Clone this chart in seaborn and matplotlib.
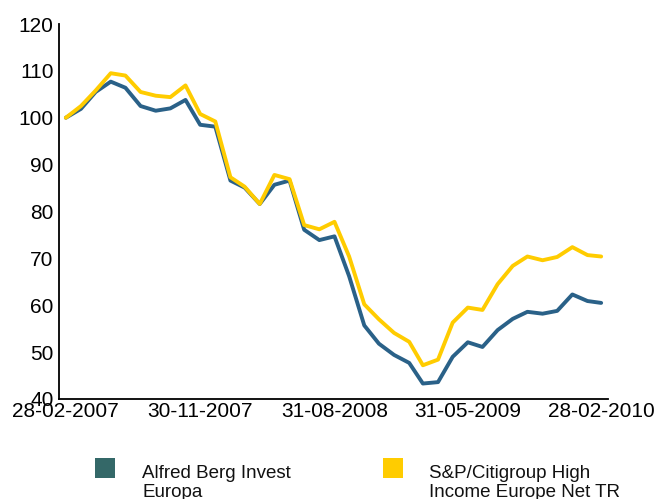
import pandas as pd
import numpy as np
import matplotlib
matplotlib.use('Agg')
import matplotlib.pyplot as plt
import matplotlib.patches as mpatches
import seaborn as sns

sns.set_style("white")
plt.rcParams['font.family'] = ['Liberation Sans', 'DejaVu Sans']

# monthly index values, 28-02-2007 .. 28-02-2010
dates = pd.date_range("2007-02-28", periods=37, freq="ME")
fund = [100.0, 101.9, 105.5, 107.7, 106.4, 102.5, 101.5, 102.0, 103.8, 98.5,
        98.1, 86.6, 85.1, 81.6, 85.7, 86.6, 76.1, 73.9, 74.7, 66.2,
        55.7, 51.8, 49.4, 47.7, 43.3, 43.6, 49.0, 52.1, 51.1, 54.7,
        57.1, 58.6, 58.2, 58.8, 62.3, 60.9, 60.5]
index_tr = [100.0, 102.5, 105.8, 109.5, 109.0, 105.5, 104.7, 104.4, 106.9, 100.8,
            99.2, 87.3, 85.3, 81.6, 87.8, 86.9, 77.1, 76.2, 77.8, 70.4,
            60.2, 57.0, 54.1, 52.2, 47.2, 48.4, 56.3, 59.5, 59.0, 64.5,
            68.4, 70.4, 69.6, 70.3, 72.4, 70.7, 70.4]
names = ["Alfred Berg Invest\nEuropa", "S&P/Citigroup High\nIncome Europe Net TR"]
line_colors = ["#2a6188", "#ffcc00"]
legend_colors = ["#346868", "#ffcc00"]

df = pd.DataFrame({
    "date": list(dates) * 2,
    "value": fund + index_tr,
    "series": [names[0]] * len(fund) + [names[1]] * len(index_tr),
})

W, H = 656, 499
fig = plt.figure(figsize=(W / 100, H / 100), dpi=100)
ax = fig.add_axes([59 / W, 1 - 399 / H, (608 - 59) / W, (399 - 24) / H])

sns.lineplot(data=df, x="date", y="value", hue="series", palette=line_colors,
             linewidth=2.8, ax=ax, legend=False)

ax.set_ylim(40, 120)
ax.set_yticks(range(40, 121, 10))
ax.set_xlim(dates[0] - pd.Timedelta(days=14), dates[-1] + pd.Timedelta(days=14))
ticks = dates[::9]
ax.set_xticks(ticks)
ax.set_xticklabels([d.strftime("%d-%m-%Y") for d in ticks])
ax.set_xlabel("")
ax.set_ylabel("")
ax.tick_params(axis="both", length=0, labelsize=15, colors="black")
ax.tick_params(axis="x", pad=2)
ax.tick_params(axis="y", pad=4)

for s in ["top", "right"]:
    ax.spines[s].set_visible(False)
for s in ["left", "bottom"]:
    ax.spines[s].set_color("black")
    ax.spines[s].set_linewidth(1.3)

# legend below the plot: square swatch + two-line label (second line sits on the edge)
for c, n, sx, tx in zip(legend_colors, names, [95, 383], [142, 429]):
    fig.add_artist(mpatches.Rectangle((sx / W, 1 - 478 / H), 20 / W, 20 / H,
                                      transform=fig.transFigure, color=c, lw=0))
    fig.text(tx / W, 1 - 497 / H, n, fontsize=13.5, va="baseline", ha="left",
             linespacing=1.12, color="#111111")

fig.savefig("out.png", dpi=100)
